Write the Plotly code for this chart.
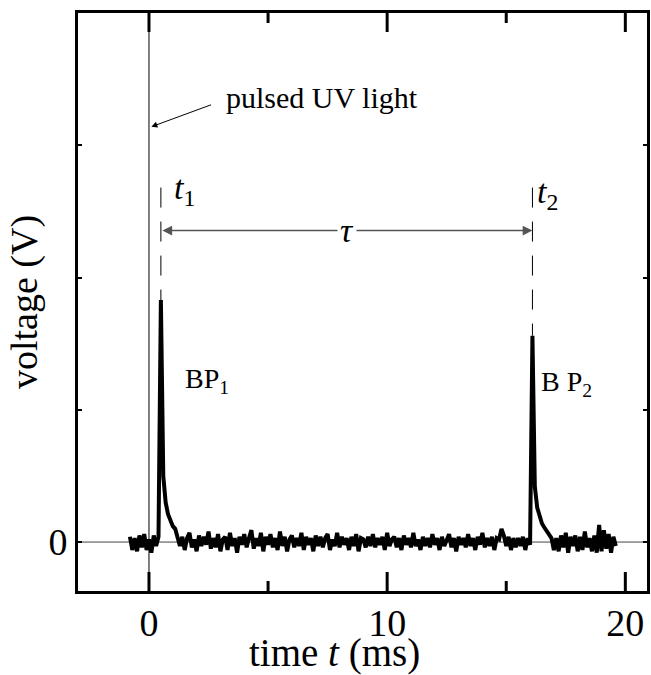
import plotly.graph_objects as go

# ---------------- data ----------------
T0_MS = -0.8          # first sample of the recorded trace (ms)
DT_MS = 0.1           # sampling interval (ms)

# recorded voltage (arbitrary units of the y axis), one value per sample
v_pre = [0.04, -0.06, 0.03, -0.07, 0.05, -0.04, 0.06, -0.06, 0.02, -0.08, 0.05, -0.03, 0.04]
v_bp1 = [1.83, 0.50, 0.30, 0.21, 0.16, 0.12, 0.10, 0.04]
v_mid = [
    -0.03, 0.04, -0.06, 0.03, 0.07, -0.04, 0.02, -0.07, 0.05, -0.03,
    0.04, -0.02, 0.08, -0.05, 0.03, -0.04, 0.06, -0.07, 0.02, 0.04,
    -0.06, 0.07, -0.03, 0.03, -0.08, 0.04, -0.02, 0.06, -0.04, 0.03,
    0.09, -0.05, 0.03, -0.03, 0.07, -0.07, 0.04, -0.02, 0.06, -0.04,
    0.03, -0.06, 0.08, -0.03, 0.04, -0.07, 0.02, 0.05, -0.04, 0.03,
    -0.03, 0.07, -0.06, 0.04, -0.02, 0.03, -0.07, 0.05, -0.03, 0.04,
    -0.04, 0.03, 0.06, -0.06, 0.02, -0.03, 0.07, -0.04, 0.04, -0.02,
    0.03, -0.06, 0.04, -0.03, 0.06, -0.07, 0.03, 0.02, -0.04, 0.04,
    -0.03, 0.06, -0.04, 0.03, -0.02, 0.04, -0.06, 0.07, -0.03, 0.02,
    0.04, -0.04, 0.03, -0.06, 0.05, -0.02, 0.03, -0.04, 0.07, -0.03,
    0.02, -0.06, 0.04, -0.03, 0.03, -0.04, 0.06, -0.02, 0.03, -0.06,
    0.04, -0.03, 0.02, 0.06, -0.04, 0.03, -0.07, 0.04, -0.02, 0.03,
    -0.04, 0.06, -0.03, 0.03, -0.06, 0.04, -0.02, 0.07, -0.04, 0.03,
    -0.03, 0.04, -0.06, 0.03, 0.02, 0.10, 0.05, -0.03, 0.04, -0.06,
    0.03, -0.04, 0.03, -0.03, 0.04, -0.06, 0.03, -0.02,
]
v_bp2 = [1.56, 0.42, 0.26, 0.19, 0.14, 0.11, 0.08, 0.05, 0.03]
v_post = [
    -0.06, 0.03, -0.07, 0.05, -0.04, 0.07, -0.08, 0.04, -0.03, 0.05,
    -0.07, 0.04, -0.06, 0.08, -0.04, 0.03, -0.07, 0.05, -0.08, 0.13,
    -0.07, 0.09, -0.05, 0.06, -0.08, 0.04, -0.03,
]
voltage = v_pre + v_bp1 + v_mid + v_bp2 + v_post
time_ms = [round(T0_MS + DT_MS * i, 3) for i in range(len(voltage))]

t1_ms = time_ms[len(v_pre)]
t2_ms = time_ms[len(v_pre) + len(v_bp1) + len(v_mid)]
peak1 = v_bp1[0]
peak2 = v_bp2[0]

x_ticks = [0, 5, 10, 15, 20]
x_ticktext = ["0", "", "10", "", "20"]
x_long_ticks = [0, 10, 20]
y_ticks = [0, 1, 2, 3]
y_ticktext = ["0", "", "", ""]
X_RANGE = [-2.98, 20.91]
Y_RANGE = [-0.37, 4.0]

# ---------------- figure ----------------
FONT = "Liberation Serif"
W, H = 651, 675
M = dict(l=78, r=1, t=13, b=84)
PLOT_H = H - M["t"] - M["b"]
Y_PER_PX = (Y_RANGE[1] - Y_RANGE[0]) / PLOT_H

fig = go.Figure()

fig.add_trace(go.Scatter(x=time_ms, y=voltage, mode="lines",
                         line=dict(color="black", width=4), hoverinfo="skip"))

# dashed markers at t1 and t2
DASH_TOP = 2.68
fig.add_trace(go.Scatter(x=[t1_ms, t1_ms], y=[DASH_TOP, peak1], mode="lines",
                         line=dict(color="black", width=1, dash="20px,14px")))
fig.add_trace(go.Scatter(x=[t2_ms, t2_ms], y=[DASH_TOP, peak2], mode="lines",
                         line=dict(color="black", width=1, dash="20px,14px")))

# reference lines: t = 0 and V = 0
fig.add_shape(type="line", xref="x", yref="paper", x0=0, x1=0, y0=0, y1=1,
              line=dict(color="black", width=1), layer="below")
fig.add_shape(type="line", xref="paper", yref="y", x0=0, x1=1, y0=0, y1=0,
              line=dict(color="#444", width=1), layer="below")

# x-axis tick marks (bottom and mirrored top), long at 0/10/20, short at 5/15
tick_x, tick_y = [], []
for xv in x_ticks:
    tlen = (19 if xv in x_long_ticks else 10) * Y_PER_PX
    tick_x += [xv, xv, None, xv, xv, None]
    tick_y += [Y_RANGE[0], Y_RANGE[0] + tlen, None, Y_RANGE[1], Y_RANGE[1] - tlen, None]
fig.add_trace(go.Scatter(x=tick_x, y=tick_y, mode="lines", cliponaxis=False,
                         line=dict(color="black", width=3), hoverinfo="skip"))

# tau double arrow
TAU_Y = 2.355
fig.add_annotation(x=t2_ms, y=TAU_Y, ax=t1_ms, ay=TAU_Y, xref="x", yref="y",
                   axref="x", ayref="y", text="", showarrow=True,
                   arrowhead=2, startarrowhead=2, arrowside="end+start",
                   arrowsize=1.3, startarrowsize=1.3, arrowwidth=1.5, arrowcolor="#555")
fig.add_annotation(x=(t1_ms + t2_ms) / 2, y=TAU_Y, text="<i>τ</i>", showarrow=False,
                   font=dict(family=FONT, size=34, color="black"),
                   bgcolor="white", xanchor="center", yanchor="middle", borderpad=2)

# pulsed UV light label + arrow
fig.add_annotation(x=0.10, y=3.14, ax=2.67, ay=3.31, xref="x", yref="y",
                   axref="x", ayref="y", text="", showarrow=True,
                   arrowhead=2, arrowsize=1.2, arrowwidth=1, arrowcolor="black")
fig.add_annotation(x=3.16, y=3.36, text="pulsed UV light", showarrow=False,
                   xanchor="left", yanchor="middle",
                   font=dict(family=FONT, size=30, color="black"))

# t1, t2 labels
fig.add_annotation(x=0.95, y=2.66, text="<i>t</i><sub>1</sub>", showarrow=False,
                   xanchor="left", yanchor="middle",
                   font=dict(family=FONT, size=34, color="black"))
fig.add_annotation(x=16.2, y=2.63, text="<i>t</i><sub>2</sub>", showarrow=False,
                   xanchor="left", yanchor="middle",
                   font=dict(family=FONT, size=34, color="black"))

# BP labels
fig.add_annotation(x=1.41, y=1.22, text="BP<sub>1</sub>", showarrow=False,
                   xanchor="left", yanchor="middle",
                   font=dict(family=FONT, size=28, color="black"))
fig.add_annotation(x=16.39, y=1.2, text="B P<sub>2</sub>", showarrow=False,
                   xanchor="left", yanchor="middle",
                   font=dict(family=FONT, size=28, color="black"))

# x-axis title
fig.add_annotation(xref="paper", yref="paper", x=0.451, y=-0.108,
                   text="time <i>t</i> (ms)", showarrow=False,
                   xanchor="center", yanchor="middle",
                   font=dict(family=FONT, size=39, color="black"))

fig.update_layout(
    width=W, height=H, margin=M,
    plot_bgcolor="white", paper_bgcolor="white",
    showlegend=False,
    font=dict(family=FONT, color="black"),
)
fig.update_xaxes(
    range=X_RANGE, showgrid=False, zeroline=False,
    showline=True, linewidth=3, linecolor="black", mirror=True,
    ticks="", tickvals=x_ticks, ticktext=x_ticktext,
    tickfont=dict(family=FONT, size=38), ticklabelstandoff=-4,
)
fig.update_yaxes(
    range=Y_RANGE, showgrid=False, zeroline=False,
    showline=True, linewidth=3, linecolor="black", mirror="allticks",
    ticks="inside", ticklen=4, tickwidth=2, tickcolor="black",
    tickvals=y_ticks, ticktext=y_ticktext, tickfont=dict(family=FONT, size=38),
    title=dict(text="voltage (V)", font=dict(family=FONT, size=38), standoff=0),
)

fig.write_html("out.html")
